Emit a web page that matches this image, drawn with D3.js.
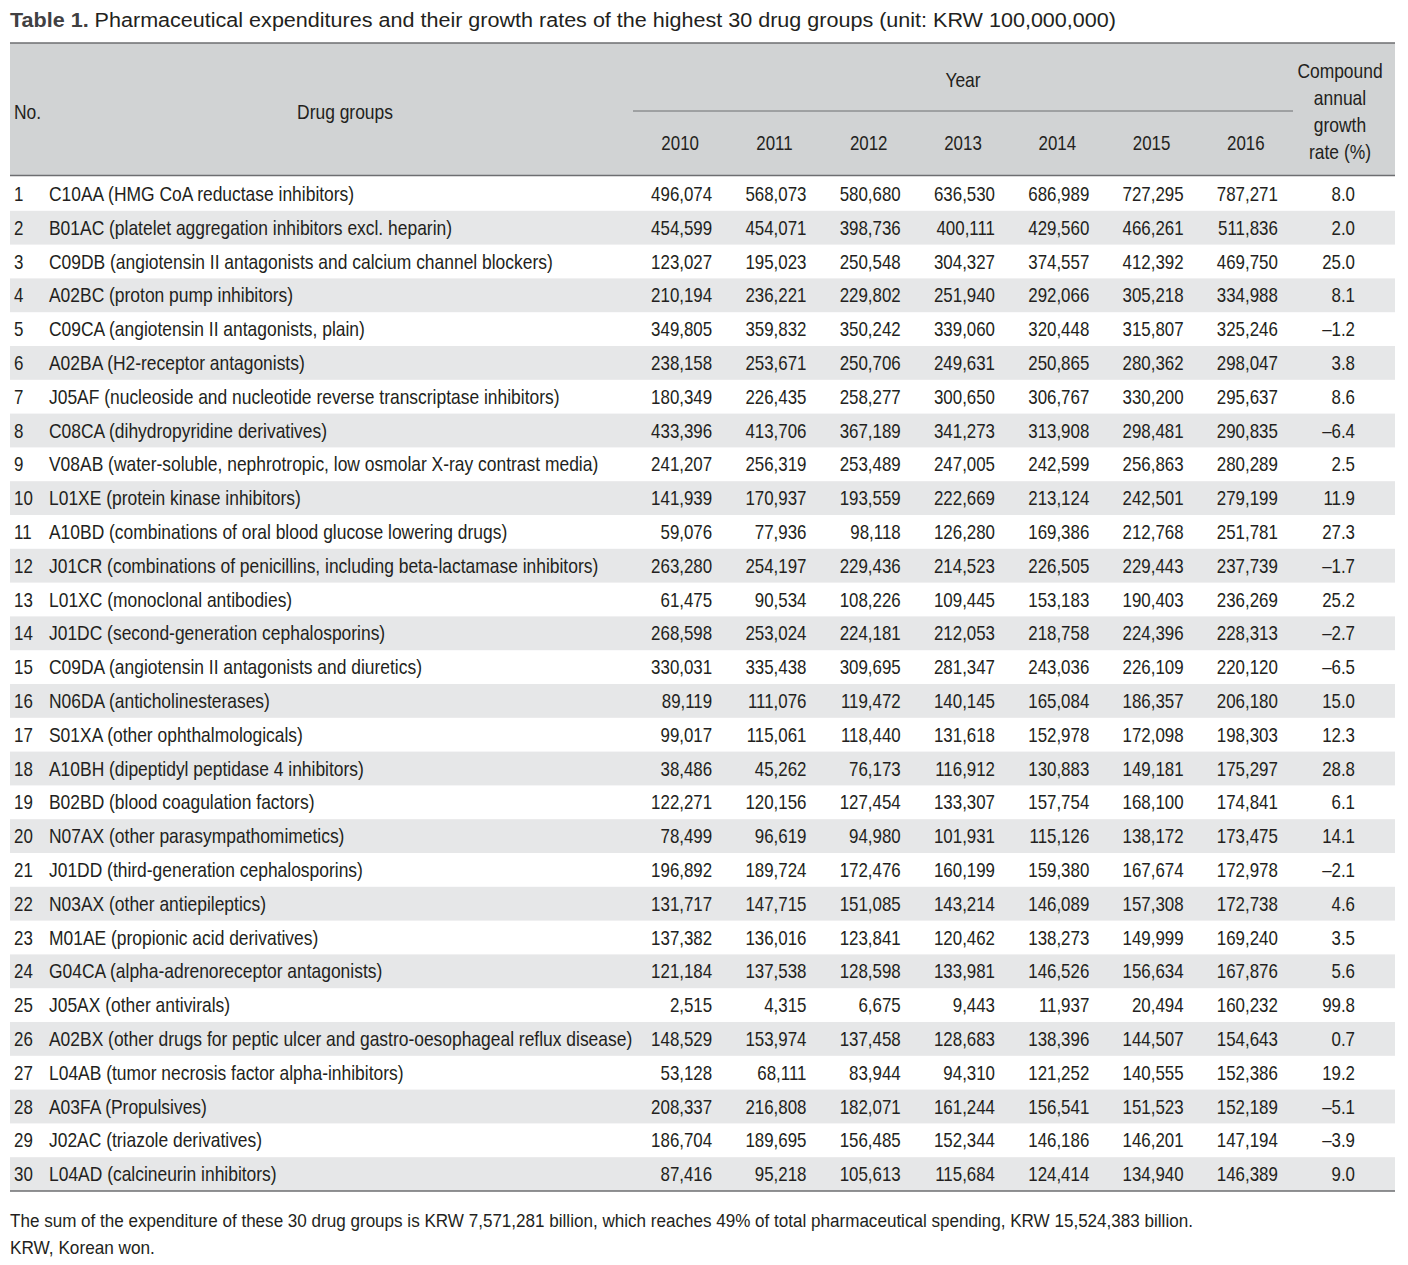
<!DOCTYPE html>
<html><head><meta charset="utf-8">
<script src="https://cdn.jsdelivr.net/npm/d3@7"></script>
<style>
html,body{margin:0;padding:0;background:#fff;}
svg text{font-family:"Liberation Sans",Arial,sans-serif;fill:#231f20;}
</style></head>
<body><svg id="c" width="1408" height="1265"></svg>
<script>
const years = ["2010","2011","2012","2013","2014","2015","2016"];
const ranks = d3.range(1,31);
const drugGroups = [
"C10AA (HMG CoA reductase inhibitors)",
"B01AC (platelet aggregation inhibitors excl. heparin)",
"C09DB (angiotensin II antagonists and calcium channel blockers)",
"A02BC (proton pump inhibitors)",
"C09CA (angiotensin II antagonists, plain)",
"A02BA (H2-receptor antagonists)",
"J05AF (nucleoside and nucleotide reverse transcriptase inhibitors)",
"C08CA (dihydropyridine derivatives)",
"V08AB (water-soluble, nephrotropic, low osmolar X-ray contrast media)",
"L01XE (protein kinase inhibitors)",
"A10BD (combinations of oral blood glucose lowering drugs)",
"J01CR (combinations of penicillins, including beta-lactamase inhibitors)",
"L01XC (monoclonal antibodies)",
"J01DC (second-generation cephalosporins)",
"C09DA (angiotensin II antagonists and diuretics)",
"N06DA (anticholinesterases)",
"S01XA (other ophthalmologicals)",
"A10BH (dipeptidyl peptidase 4 inhibitors)",
"B02BD (blood coagulation factors)",
"N07AX (other parasympathomimetics)",
"J01DD (third-generation cephalosporins)",
"N03AX (other antiepileptics)",
"M01AE (propionic acid derivatives)",
"G04CA (alpha-adrenoreceptor antagonists)",
"J05AX (other antivirals)",
"A02BX (other drugs for peptic ulcer and gastro-oesophageal reflux disease)",
"L04AB (tumor necrosis factor alpha-inhibitors)",
"A03FA (Propulsives)",
"J02AC (triazole derivatives)",
"L04AD (calcineurin inhibitors)"
];
const exp2010 = [496074,454599,123027,210194,349805,238158,180349,433396,241207,141939,59076,263280,61475,268598,330031,89119,99017,38486,122271,78499,196892,131717,137382,121184,2515,148529,53128,208337,186704,87416];
const exp2011 = [568073,454071,195023,236221,359832,253671,226435,413706,256319,170937,77936,254197,90534,253024,335438,111076,115061,45262,120156,96619,189724,147715,136016,137538,4315,153974,68111,216808,189695,95218];
const exp2012 = [580680,398736,250548,229802,350242,250706,258277,367189,253489,193559,98118,229436,108226,224181,309695,119472,118440,76173,127454,94980,172476,151085,123841,128598,6675,137458,83944,182071,156485,105613];
const exp2013 = [636530,400111,304327,251940,339060,249631,300650,341273,247005,222669,126280,214523,109445,212053,281347,140145,131618,116912,133307,101931,160199,143214,120462,133981,9443,128683,94310,161244,152344,115684];
const exp2014 = [686989,429560,374557,292066,320448,250865,306767,313908,242599,213124,169386,226505,153183,218758,243036,165084,152978,130883,157754,115126,159380,146089,138273,146526,11937,138396,121252,156541,146186,124414];
const exp2015 = [727295,466261,412392,305218,315807,280362,330200,298481,256863,242501,212768,229443,190403,224396,226109,186357,172098,149181,168100,138172,167674,157308,149999,156634,20494,144507,140555,151523,146201,134940];
const exp2016 = [787271,511836,469750,334988,325246,298047,295637,290835,280289,279199,251781,237739,236269,228313,220120,206180,198303,175297,174841,173475,172978,172738,169240,167876,160232,154643,152386,152189,147194,146389];
const cagr = [8.0,2.0,25.0,8.1,-1.2,3.8,8.6,-6.4,2.5,11.9,27.3,-1.7,25.2,-2.7,-6.5,15.0,12.3,28.8,6.1,14.1,-2.1,4.6,3.5,5.6,99.8,0.7,19.2,-5.1,-3.9,9.0];
const titleBold = "Table 1.";
const titleRest = " Pharmaceutical expenditures and their growth rates of the highest 30 drug groups (unit: KRW 100,000,000)";
const cagrHeader = ["Compound","annual","growth","rate (%)"];
const footnotes = [
"The sum of the expenditure of these 30 drug groups is KRW 7,571,281 billion, which reaches 49% of total pharmaceutical spending, KRW 15,524,383 billion.",
"KRW, Korean won."
];

const series = [exp2010,exp2011,exp2012,exp2013,exp2014,exp2015,exp2016];
const svg = d3.select("#c");
const FS = 20;
const SX_TXT = 0.872, SX_NUM = 0.845;
const left = 10, right = 1395;
const fmt = d3.format(",");
const fmtRate = v => (v < 0 ? "\u2013" + Math.abs(v).toFixed(1) : v.toFixed(1));

const x = d3.scaleBand().domain(years).range([633, 1293]).paddingInner(0);
const y = d3.scaleBand().domain(ranks).range([177, 1191]).paddingInner(0);
const cagrX = 1355;

function addText(parent, tx, ty, str, anchor, sx, size) {
  return parent.append("text")
    .attr("transform", `translate(${tx},${ty}) scale(${sx},1)`)
    .attr("dy", "0.35em")
    .attr("text-anchor", anchor || "start")
    .style("font-size", (size || FS) + "px")
    .text(str);
}
function fitWidth(sel, w) {
  const n = sel.node(); const len = n.getComputedTextLength();
  const tr = sel.attr("transform").replace(/scale\([^)]*\)/, `scale(${w/len},1)`);
  sel.attr("transform", tr);
}

svg.append("rect").attr("x", left).attr("y", 43).attr("width", right-left).attr("height", 132).attr("fill", "#d1d3d4");
svg.selectAll("rect.stripe").data(ranks.filter(r => r % 2 === 0)).enter().append("rect")
  .attr("class","stripe").attr("x", left).attr("width", right-left)
  .attr("y", d => y(d)).attr("height", y.bandwidth()).attr("fill", "#e6e7e8");

const line = (x1,x2,yy,w,c) => svg.append("line").attr("x1",x1).attr("x2",x2).attr("y1",yy).attr("y2",yy).attr("stroke",c).attr("stroke-width",w);
line(left, right, 43, 1.5, "#6d6e71");
line(left, right, 175.5, 1.5, "#6d6e71");
line(left, right, 1191, 1.5, "#6d6e71");
line(633, 1293, 111, 1, "#6d6e71");

const t = svg.append("text").attr("transform", `translate(${left},20) scale(1,1)`).attr("dy","0.35em").style("font-size","21px");
t.append("tspan").text(titleBold).style("font-weight","bold").style("fill","#414042");
t.append("tspan").text(titleRest);
fitWidth(t, 1107);

const hdr = svg.append("g");
addText(hdr, 14, 112, "No.", "start", SX_TXT);
addText(hdr, 345, 112, "Drug groups", "middle", SX_TXT);
addText(hdr, (x.range()[0]+x.range()[1])/2, 80, "Year", "middle", SX_TXT);
years.forEach(yr => addText(hdr, x(yr) + x.bandwidth()/2, 143, yr, "middle", SX_NUM));
cagrHeader.forEach((s, i) => addText(hdr, 1340, 71 + i*27, s, "middle", SX_TXT));

const body = svg.append("g");
ranks.forEach((r, i) => {
  const cy = y(r) + y.bandwidth()/2;
  addText(body, 14, cy, String(r), "start", SX_NUM);
  addText(body, 49, cy, drugGroups[i], "start", SX_TXT);
  years.forEach((yr, j) => addText(body, x(yr) + x.bandwidth()/2 + 32, cy, fmt(series[j][i]), "end", SX_NUM));
  addText(body, cagrX, cy, fmtRate(cagr[i]), "end", SX_NUM);
});

const fn1 = addText(svg, left, 1220, footnotes[0], "start", 1, 19);
fitWidth(fn1, 1184);
const fn2 = addText(svg, left, 1247, footnotes[1], "start", 1, 19);
fitWidth(fn2, 145);
</script>
</body></html>
